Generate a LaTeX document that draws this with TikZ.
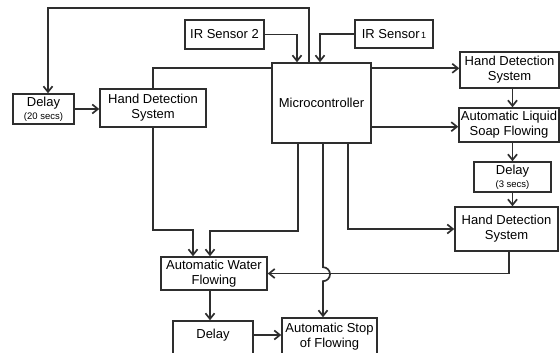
\documentclass[tikz,border=0pt]{standalone}
\usepackage{fontspec}
\setmainfont{Liberation Sans}
\usepackage{tikz}
\usetikzlibrary{arrows.meta,positioning}
\definecolor{lngray}{HTML}{2E2E2E}

\begin{document}
\begin{tikzpicture}[
x=1pt,y=-1pt,
every node/.style={font=\fontsize{13}{15}\selectfont},
blk/.style={draw=lngray,line width=1.4pt,align=center,inner sep=1pt},
arr/.style={-{Straight Barb[length=2mm,width=3.2mm]},line width=1.7pt,color=lngray},
ln/.style={line width=1.7pt,color=lngray}
]
\useasboundingbox (0,0) rectangle (560,353);
\node[blk,minimum width=61pt,minimum height=30pt] (dly20) at (43.5,109) {Delay\\[-2pt]{\fontsize{9.5}{11}\selectfont (20 secs)}};
\node[blk,minimum width=106pt,minimum height=38pt] (hdsL) at (153,108) {Hand Detection\\System};
\node[blk,minimum width=79pt,minimum height=29pt] (ir2) at (224.5,34.5) {IR Sensor 2};
\node[blk,minimum width=99pt,minimum height=80pt] (mcu) at (321.5,103) {Microcontroller};
\node[blk,minimum width=78pt,minimum height=28pt] (ir1) at (394,34) {IR Sensor{\fontsize{9}{10}\selectfont\,1}};
\node[blk,minimum width=99pt,minimum height=36pt] (hdsR1) at (509.5,70) {Hand Detection\\System};
\node[blk,minimum width=100pt,minimum height=34pt] (soap) at (509,125) {Automatic Liquid\\Soap Flowing};
\node[blk,minimum width=77pt,minimum height=30pt] (dly3) at (512.5,177) {Delay\\[-2pt]{\fontsize{9.5}{11}\selectfont (3 secs)}};
\node[blk,minimum width=103pt,minimum height=44pt] (hdsR2) at (506.5,229) {Hand Detection\\System};
\node[blk,minimum width=106pt,minimum height=33pt] (awf) at (214,273.5) {Automatic Water\\Flowing};
\node[blk,minimum width=80pt,minimum height=35pt,text depth=10pt] (dlyB) at (213,338.5) {Delay};
\node[blk,minimum width=95pt,minimum height=38pt] (stop) at (329.5,337) {Automatic Stop\\of Flowing};

% inputs to the microcontroller
\draw[arr] ([xshift=-12.5pt]mcu.north) -- ++(0,-54.5) -| ([xshift=4.5pt]dly20.north);
\draw[arr] (ir2.east) -| ([xshift=-24.5pt]mcu.north);
\draw[arr] (ir1.west) -| ([xshift=-1.5pt]mcu.north);
\draw[arr] (dly20.east) -- (dly20.east -| hdsL.west);
\draw[ln] ([yshift=-6pt]mcu.north west) -| (hdsL.north);

% water side
\draw[arr] (hdsL.south) -- (hdsL.south |- 0,230) -| ([xshift=-21pt]awf.north);
\draw[arr] ([xshift=-23.5pt]mcu.south) -- ++(0,87) -| ([xshift=-4pt]awf.north);
\draw[arr] ([xshift=1.5pt]mcu.south) -- ++(0,123.5)
  arc[start angle=90,end angle=-90,radius=7pt] -- ([xshift=-6.5pt]stop.north);
\draw[arr] ([xshift=-4pt]awf.south) -- ([xshift=-4pt]awf.south |- dlyB.north);
\draw[arr] ([yshift=3.5pt]dlyB.east) -- ([yshift=3.5pt]dlyB.east -| stop.west);

% soap side
\draw[arr] ([yshift=-6pt]mcu.north east) -- ([yshift=-6pt]mcu.north east -| hdsR1.west);
\draw[arr] ([yshift=17pt]mcu.south east) -- ([yshift=17pt]mcu.south east -| soap.west);
\draw[arr] ([xshift=26.5pt]mcu.south) |- (hdsR2.west);
\draw[arr] ([xshift=3pt]hdsR1.south) -- ([xshift=3pt]hdsR1.south |- soap.north);
\draw[arr] ([xshift=3.5pt]soap.south) -- ([xshift=3.5pt]soap.south |- dly3.north);
\draw[arr] (dly3.south) -- (dly3.south |- hdsR2.north);
\draw[arr] ([xshift=2.5pt]hdsR2.south) |- (awf.east);
\end{tikzpicture}
\end{document}
